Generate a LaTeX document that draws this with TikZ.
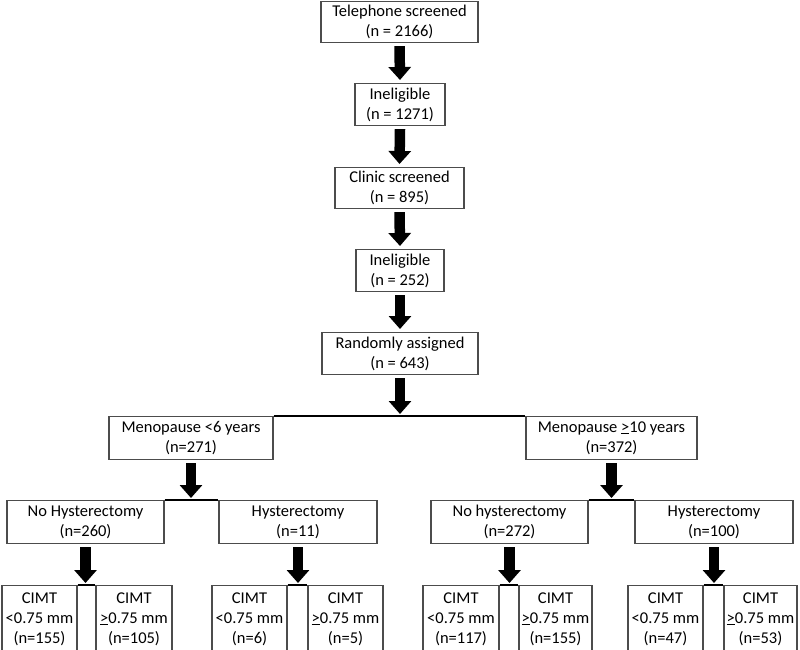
\documentclass[tikz,border=0pt]{standalone}
\usepackage{fontspec}
\setmainfont{Carlito}
\usetikzlibrary{arrows.meta}
\begin{document}
\begin{tikzpicture}[x=1pt,y=-1pt,
  box/.style={draw=black!70, line width=1.1pt, align=center, inner sep=0pt, anchor=north,
    font=\fontsize{16.5}{20}\selectfont},
  bigarrow/.style={line width=10.5pt, -{Triangle[width=22pt,length=13pt]}},
  link/.style={line width=2pt}]
\useasboundingbox (0,0) rectangle (800,649);
\clip (0,0) rectangle (800,649);
% column of screening boxes
\node[box, minimum width=157pt, minimum height=41pt] (tel) at (399.5,1) {Telephone screened\\(n = 2166)};
\node[box, minimum width=90pt, minimum height=42pt] (in1) at (400,83) {Ineligible\\(n = 1271)};
\node[box, minimum width=129pt, minimum height=41pt] (cli) at (399.5,167) {Clinic screened\\(n = 895)};
\node[box, minimum width=88pt, minimum height=42pt] (in2) at (400,249) {Ineligible\\(n = 252)};
\node[box, minimum width=156pt, minimum height=42pt] (rnd) at (400,332) {Randomly assigned\\(n = 643)};
% menopause
\node[box, minimum width=164pt, minimum height=43pt] (m1) at (191,416) {Menopause <6 years\\(n=271)};
\node[box, minimum width=171pt, minimum height=43pt] (m2) at (611.5,416) {Menopause \underline{>}10 years\\(n=372)};
% hysterectomy
\node[box, minimum width=157pt, minimum height=43pt] (n1) at (85.5,500) {No Hysterectomy\\(n=260)};
\node[box, minimum width=158pt, minimum height=43pt] (n2) at (298,500) {Hysterectomy\\(n=11)};
\node[box, minimum width=157pt, minimum height=43pt] (n3) at (509.5,500) {No hysterectomy\\(n=272)};
\node[box, minimum width=158pt, minimum height=43pt] (n4) at (714,500) {Hysterectomy\\(n=100)};
% CIMT
\node[box, minimum width=75pt, minimum height=67pt] (c1) at (39.5,585) {CIMT\\<0.75 mm\\(n=155)};
\node[box, minimum width=76pt, minimum height=67pt] (c2) at (134,585) {CIMT\\\underline{>}0.75 mm\\(n=105)};
\node[box, minimum width=75pt, minimum height=67pt] (c3) at (249.5,585) {CIMT\\<0.75 mm\\(n=6)};
\node[box, minimum width=75pt, minimum height=67pt] (c4) at (345.5,585) {CIMT\\\underline{>}0.75 mm\\(n=5)};
\node[box, minimum width=76pt, minimum height=67pt] (c5) at (461,585) {CIMT\\<0.75 mm\\(n=117)};
\node[box, minimum width=73pt, minimum height=67pt] (c6) at (555.5,585) {CIMT\\\underline{>}0.75 mm\\(n=155)};
\node[box, minimum width=75pt, minimum height=67pt] (c7) at (665.5,585) {CIMT\\<0.75 mm\\(n=47)};
\node[box, minimum width=73pt, minimum height=67pt] (c8) at (760.5,585) {CIMT\\\underline{>}0.75 mm\\(n=53)};
% horizontal links
\draw[link] (m1.north east) -- (m2.north west);
\draw[link] (n1.north east) -- (n2.north west);
\draw[link] (n3.north east) -- (n4.north west);
\draw[link] (c1.north east) -- (c2.north west);
\draw[link] (c3.north east) -- (c4.north west);
\draw[link] (c5.north east) -- (c6.north west);
\draw[link] (c7.north east) -- (c8.north west);
% arrows
\draw[bigarrow] ([yshift=-3pt]tel.south) -- ([yshift=3pt]in1.north);
\draw[bigarrow] ([yshift=-3pt]in1.south) -- ([yshift=3pt]cli.north);
\draw[bigarrow] ([yshift=-3pt]cli.south) -- ([yshift=3pt]in2.north);
\draw[bigarrow] ([yshift=-3pt]in2.south) -- ([yshift=3pt]rnd.north);
\draw[bigarrow] ([yshift=-3pt]rnd.south) -- ([yshift=2pt]rnd.south |- m1.north);
\draw[bigarrow] ([yshift=-3pt]m1.south) -- ([yshift=2pt]m1.south |- n1.north);
\draw[bigarrow] ([yshift=-3pt]m2.south) -- ([yshift=2pt]m2.south |- n3.north);
\draw[bigarrow] ([yshift=-3pt]n1.south) -- ([yshift=2pt]n1.south |- c1.north);
\draw[bigarrow] ([yshift=-3pt]n2.south) -- ([yshift=2pt]n2.south |- c3.north);
\draw[bigarrow] ([yshift=-3pt]n3.south) -- ([yshift=2pt]n3.south |- c5.north);
\draw[bigarrow] ([yshift=-3pt]n4.south) -- ([yshift=2pt]n4.south |- c7.north);
\end{tikzpicture}
\end{document}
